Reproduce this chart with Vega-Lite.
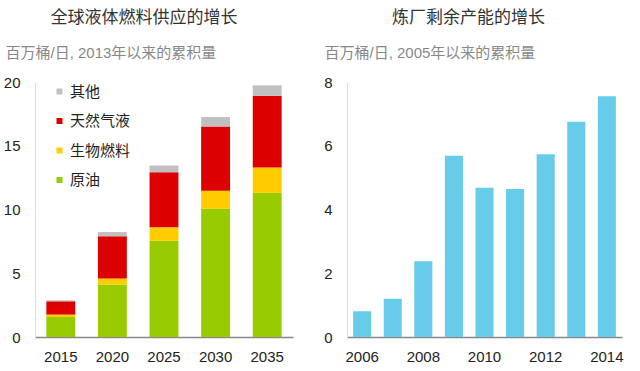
{
  "$schema": "https://vega.github.io/schema/vega-lite/v6.json",
  "background": "white",
  "padding": {"left": 3, "top": 9, "right": 5, "bottom": 3},
  "spacing": 30,
  "config": {
    "view": {"stroke": null},
    "font": "Liberation Sans, Noto Sans CJK SC",
    "axis": {"labelFont": "Liberation Sans, Noto Sans CJK SC", "labelFontSize": 15, "labelColor": "#222222", "grid": false},
    "title": {"font": "Noto Sans CJK SC", "fontSize": 17, "fontWeight": "normal", "color": "#333333"}
  },
  "datasets": {
    "supply": [
      {"year": "2015", "type": "原油", "value": 1.57, "ord": 1},
      {"year": "2015", "type": "生物燃料", "value": 0.19, "ord": 2},
      {"year": "2015", "type": "天然气液", "value": 1.04, "ord": 3},
      {"year": "2015", "type": "其他", "value": 0.08, "ord": 4},
      {"year": "2020", "type": "原油", "value": 4.1, "ord": 1},
      {"year": "2020", "type": "生物燃料", "value": 0.49, "ord": 2},
      {"year": "2020", "type": "天然气液", "value": 3.31, "ord": 3},
      {"year": "2020", "type": "其他", "value": 0.33, "ord": 4},
      {"year": "2025", "type": "原油", "value": 7.55, "ord": 1},
      {"year": "2025", "type": "生物燃料", "value": 1.05, "ord": 2},
      {"year": "2025", "type": "天然气液", "value": 4.32, "ord": 3},
      {"year": "2025", "type": "其他", "value": 0.53, "ord": 4},
      {"year": "2030", "type": "原油", "value": 10.07, "ord": 1},
      {"year": "2030", "type": "生物燃料", "value": 1.41, "ord": 2},
      {"year": "2030", "type": "天然气液", "value": 5.03, "ord": 3},
      {"year": "2030", "type": "其他", "value": 0.74, "ord": 4},
      {"year": "2035", "type": "原油", "value": 11.3, "ord": 1},
      {"year": "2035", "type": "生物燃料", "value": 1.99, "ord": 2},
      {"year": "2035", "type": "天然气液", "value": 5.64, "ord": 3},
      {"year": "2035", "type": "其他", "value": 0.81, "ord": 4}
    ],
    "refinery": [
      {"year": "2006", "value": 0.81},
      {"year": "2007", "value": 1.2},
      {"year": "2008", "value": 2.38},
      {"year": "2009", "value": 5.69},
      {"year": "2010", "value": 4.68},
      {"year": "2011", "value": 4.64},
      {"year": "2012", "value": 5.73},
      {"year": "2013", "value": 6.75},
      {"year": "2014", "value": 7.55}
    ]
  },
  "hconcat": [
    {
      "title": {"text": "全球液体燃料供应的增长", "anchor": "middle", "frame": "group", "dx": -20, "offset": 18},
      "width": 258,
      "height": 255,
      "data": {"name": "supply"},
      "mark": {"type": "bar"},
      "encoding": {
        "x": {
          "field": "year", "type": "ordinal",
          "scale": {"paddingInner": 0.44, "paddingOuter": 0.22},
          "axis": {"title": null, "labelAngle": 0, "ticks": false, "domainColor": "#888888", "domainWidth": 1.5, "labelPadding": 12}
        },
        "y": {
          "field": "value", "type": "quantitative", "stack": "zero",
          "scale": {"domain": [0, 20], "nice": false},
          "axis": {
            "values": [0, 5, 10, 15, 20], "ticks": false, "domainColor": "#dddddd", "labelPadding": 15,
            "title": "百万桶/日, 2013年以来的累积量", "titleAngle": 0, "titleAlign": "left", "titleBaseline": "middle",
            "titleX": -30, "titleY": -30, "titleFontSize": 15, "titleFontWeight": "normal", "titleColor": "#888888",
            "titleFont": "Liberation Sans, Noto Sans CJK SC"
          }
        },
        "color": {
          "field": "type", "type": "nominal",
          "scale": {"domain": ["其他", "天然气液", "生物燃料", "原油"], "range": ["#c0c0c0", "#dd0000", "#ffcc00", "#99cc00"]},
          "legend": {
            "title": null, "orient": "none", "legendX": 17, "legendY": 2,
            "symbolType": "square", "symbolSize": 36, "symbolStrokeWidth": 0,
            "labelFontSize": 15, "labelFont": "Noto Sans CJK SC", "labelColor": "#222222",
            "rowPadding": 13.5, "labelOffset": 3
          }
        },
        "order": {"field": "ord", "type": "quantitative", "sort": "ascending"}
      }
    },
    {
      "title": {"text": "炼厂剩余产能的增长", "anchor": "middle", "frame": "group", "dx": -16, "offset": 18},
      "width": 275,
      "height": 255,
      "data": {"name": "refinery"},
      "mark": {"type": "bar", "color": "#66ccea"},
      "encoding": {
        "x": {
          "field": "year", "type": "ordinal",
          "scale": {"paddingInner": 0.41, "paddingOuter": 0.2},
          "axis": {"title": null, "labelAngle": 0, "ticks": false, "domainColor": "#888888", "domainWidth": 1.5, "labelPadding": 12,
                   "values": ["2006", "2008", "2010", "2012", "2014"]}
        },
        "y": {
          "field": "value", "type": "quantitative",
          "scale": {"domain": [0, 8], "nice": false},
          "axis": {
            "values": [0, 2, 4, 6, 8], "ticks": false, "domainColor": "#dddddd", "labelPadding": 15,
            "title": "百万桶/日, 2005年以来的累积量", "titleAngle": 0, "titleAlign": "left", "titleBaseline": "middle",
            "titleX": -23, "titleY": -30, "titleFontSize": 15, "titleFontWeight": "normal", "titleColor": "#888888",
            "titleFont": "Liberation Sans, Noto Sans CJK SC"
          }
        }
      }
    }
  ]
}
